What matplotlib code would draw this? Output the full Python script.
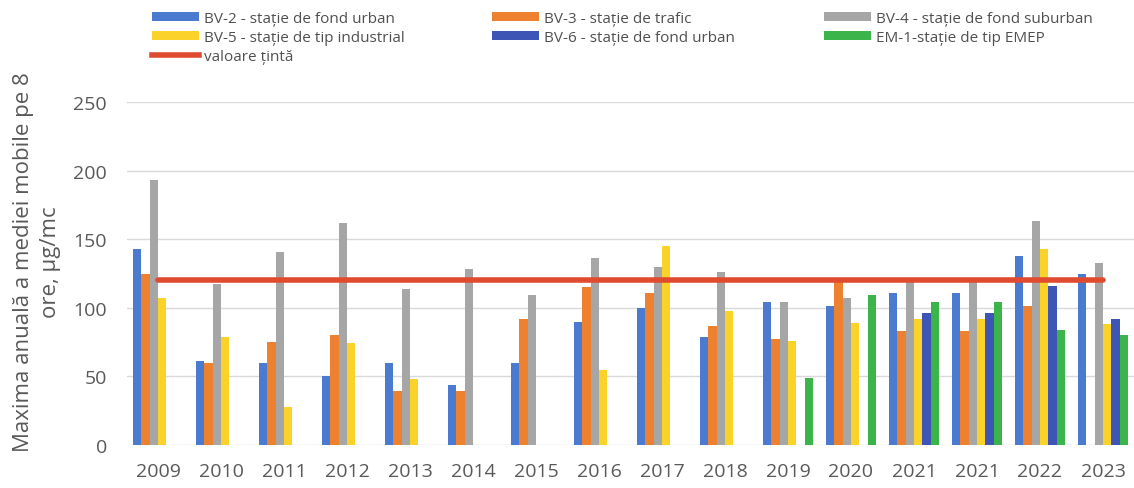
import numpy as np
import matplotlib
matplotlib.use('Agg')
import matplotlib.pyplot as plt
from matplotlib.lines import Line2D
from matplotlib.patches import Patch

plt.rcParams['font.family'] = ['Open Sans', 'DejaVu Sans']

# * Data
years = ['2009', '2010', '2011', '2012', '2013', '2014', '2015', '2016',
         '2017', '2018', '2019', '2020', '2021', '2021', '2022', '2023']
nan = np.nan
bv2 = [143, 61, 60, 50, 60, 44, 60, 90, 100, 79, 104, 101, 111, 111, 138, 125]
bv3 = [125, 60, 75, 80, 39, 39, 92, 115, 111, 87, 77, 119, 83, 83, 101, nan]
bv4 = [193, 117, 141, 162, 114, 128, 109, 136, 130, 126, 104, 107, 120, 120, 163, 133]
bv5 = [107, 79, 28, 74, 48, nan, nan, 55, 145, 98, 76, 89, 92, 92, 143, 88]
bv6 = [nan, nan, nan, nan, nan, nan, nan, nan, nan, nan, nan, nan, 96, 96, 116, 92]
em1 = [nan, nan, nan, nan, nan, nan, nan, nan, nan, nan, 49, 109, 104, 104, 84, 80]
target = [120, 120, 120, 120, 120, 120, 120, 120, 120, 120, 120, 120, 120, 120, 120, 120]

series = [
    ('BV-2 - stație de fond urban', bv2, '#4A7BD0'),
    ('BV-3 - stație de trafic', bv3, '#EE8130'),
    ('BV-4 - stație de fond suburban', bv4, '#A6A6A6'),
    ('BV-5 - stație de tip industrial', bv5, '#FBD22A'),
    ('BV-6 - stație de fond urban', bv6, '#3D55B5'),
    ('EM-1-stație de tip EMEP', em1, '#3BB54A'),
]
target_label = 'valoare țintă'
red = '#E04A2F'
text_col = '#595959'

fig = plt.figure(figsize=(11.34, 4.89), dpi=100)
ax = fig.add_axes([126.5 / 1134, 43 / 489, 1008 / 1134, 343 / 489])

# * Clustered bars
x = np.arange(len(years))
w = 0.8 / len(series)
for j, (name, vals, col) in enumerate(series):
    vals = np.array(vals, dtype=float)
    ok = ~np.isnan(vals)
    ax.bar(x[ok] + (j - 2.5) * w, vals[ok], width=w, color=col, zorder=2)

# * Target line
ax.plot(x, target, color=red, lw=4, zorder=3, solid_capstyle='round')

ax.set_xlim(-0.5, len(years) - 0.5)
ax.set_ylim(0, 250)
ax.set_yticks(np.arange(0, 251, 50))
ax.set_xticks(x)
ax.set_xticklabels(years)
ax.grid(axis='y', color='#D9D9D9', lw=1, zorder=0)
for s in ax.spines.values():
    s.set_visible(False)
ax.tick_params(axis='y', length=0, pad=14, labelsize=14, labelcolor=text_col)
ax.tick_params(axis='x', length=0, pad=12, labelsize=14, labelcolor=text_col)

fig.text(37 / 1134, 1 - 262 / 489, 'Maxima anuală a mediei mobile pe 8\nore, µg/mc',
         rotation=90, ha='center', va='center', multialignment='center',
         fontsize=16, color=text_col, linespacing=1.35)

# * Legend, built as three columns
def patch(i):
    return Patch(facecolor=series[i][2], edgecolor='none', label=series[i][0])

cols = [
    (152, [patch(0), patch(3), Line2D([], [], color=red, lw=4, label=target_label)]),
    (492, [patch(1), patch(4)]),
    (824, [patch(2), patch(5)]),
]
for xpix, handles in cols:
    fig.legend(handles=handles, loc='upper left',
               bbox_to_anchor=(xpix / 1134, 1 - 12 / 489), frameon=False,
               fontsize=11, labelcolor='#505050', borderpad=0,
               handlelength=3.1, handleheight=0.46, handletextpad=0.33,
               labelspacing=0.26, borderaxespad=0)

fig.savefig('out.png', dpi=100)
